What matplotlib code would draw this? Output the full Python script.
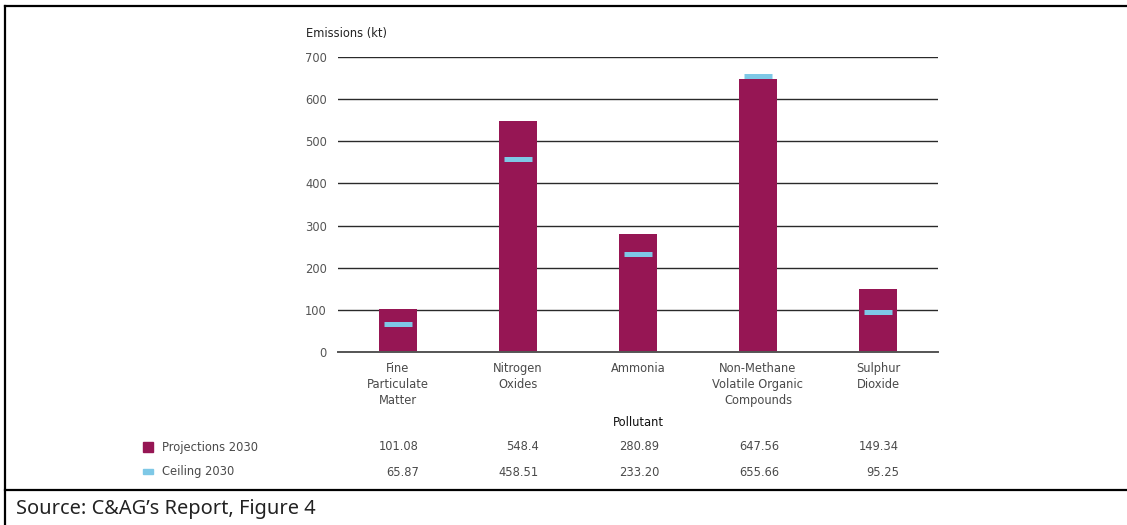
import matplotlib.pyplot as plt
from matplotlib.lines import Line2D
from matplotlib.patches import Rectangle
from matplotlib.transforms import blended_transform_factory

plt.rcParams["font.family"] = ["DejaVu Sans"]

# Emissions by pollutant, kt
pollutants = ["Fine\nParticulate\nMatter", "Nitrogen\nOxides", "Ammonia",
              "Non-Methane\nVolatile Organic\nCompounds", "Sulphur\nDioxide"]
projections = [101.08, 548.4, 280.89, 647.56, 149.34]
ceiling = [65.87, 458.51, 233.20, 655.66, 95.25]
projection_labels = ["101.08", "548.4", "280.89", "647.56", "149.34"]
ceiling_labels = ["65.87", "458.51", "233.20", "655.66", "95.25"]
yticks = [0, 100, 200, 300, 400, 500, 600, 700]

BAR = "#961654"
CEIL = "#7EC8E6"
GREY = "#4a4a4a"
FS = 8.3

W, H = 1127, 525
fig = plt.figure(figsize=(W / 100, H / 100), dpi=100)
ax = fig.add_axes([338 / W, 1 - 352 / H, 600 / W, 295 / H])

x = list(range(len(pollutants)))
ax.bar(x, projections, width=0.31, color=BAR, zorder=2)
ax.hlines(ceiling, [i - 0.117 for i in x], [i + 0.117 for i in x],
          color=CEIL, linewidth=3.6, zorder=3, capstyle="butt")

ax.set_xlim(-0.5, 4.5)
ax.set_ylim(0, 700)
ax.set_yticks(yticks)
ax.set_xticks(x)
ax.set_xticklabels(pollutants, fontsize=FS, color=GREY, linespacing=1.3)
ax.tick_params(axis="x", length=0, pad=7)
ax.tick_params(axis="y", length=0, pad=8, labelsize=FS, labelcolor="#555555")
ax.set_axisbelow(True)
ax.yaxis.grid(True, color="#2a2a2a", linewidth=1.0)
for s in ("top", "right", "left"):
    ax.spines[s].set_visible(False)
ax.spines["bottom"].set_color("#555555")
ax.spines["bottom"].set_linewidth(1.4)

fig.text(306 / W, 1 - 33 / H, "Emissions (kt)", fontsize=FS, color="#222222",
         ha="left", va="center")
fig.text(638 / W, 1 - 422 / H, "Pollutant", fontsize=FS, color="#111111",
         ha="center", va="center")

# value table under the chart
tr = blended_transform_factory(ax.transData, fig.transFigure)
row1, row2 = 1 - 447 / H, 1 - 472 / H
for i in x:
    ax.text(i + 0.175, row1, projection_labels[i], transform=tr, ha="right",
            va="center", fontsize=FS, color=GREY)
    ax.text(i + 0.175, row2, ceiling_labels[i], transform=tr, ha="right",
            va="center", fontsize=FS, color=GREY)

fig.add_artist(Rectangle((143 / W, 1 - 452 / H), 10 / W, 10 / H,
                         transform=fig.transFigure, color=BAR))
fig.add_artist(Rectangle((143 / W, 1 - 473.5 / H), 10 / W, 4.5 / H,
                         transform=fig.transFigure, color=CEIL))
fig.text(162 / W, row1, "Projections 2030", fontsize=FS, color=GREY,
         ha="left", va="center")
fig.text(162 / W, row2, "Ceiling 2030", fontsize=FS, color=GREY,
         ha="left", va="center")

# frame
lw = 1.6
fig.add_artist(Line2D([5 / W, 1], [1 - 6 / H] * 2, transform=fig.transFigure,
                      color="black", linewidth=lw))
fig.add_artist(Line2D([5 / W, 1], [1 - 490 / H] * 2, transform=fig.transFigure,
                      color="black", linewidth=lw))
fig.add_artist(Line2D([5 / W] * 2, [0, 1 - 6 / H], transform=fig.transFigure,
                      color="black", linewidth=lw))

fig.text(16 / W, 1 - 509 / H, "Source: C&AG\u2019s Report, Figure 4",
         fontsize=14.4, color="#222222", ha="left", va="center",
         family=["Noto Sans", "DejaVu Sans"])

fig.savefig("out.png", dpi=100)
